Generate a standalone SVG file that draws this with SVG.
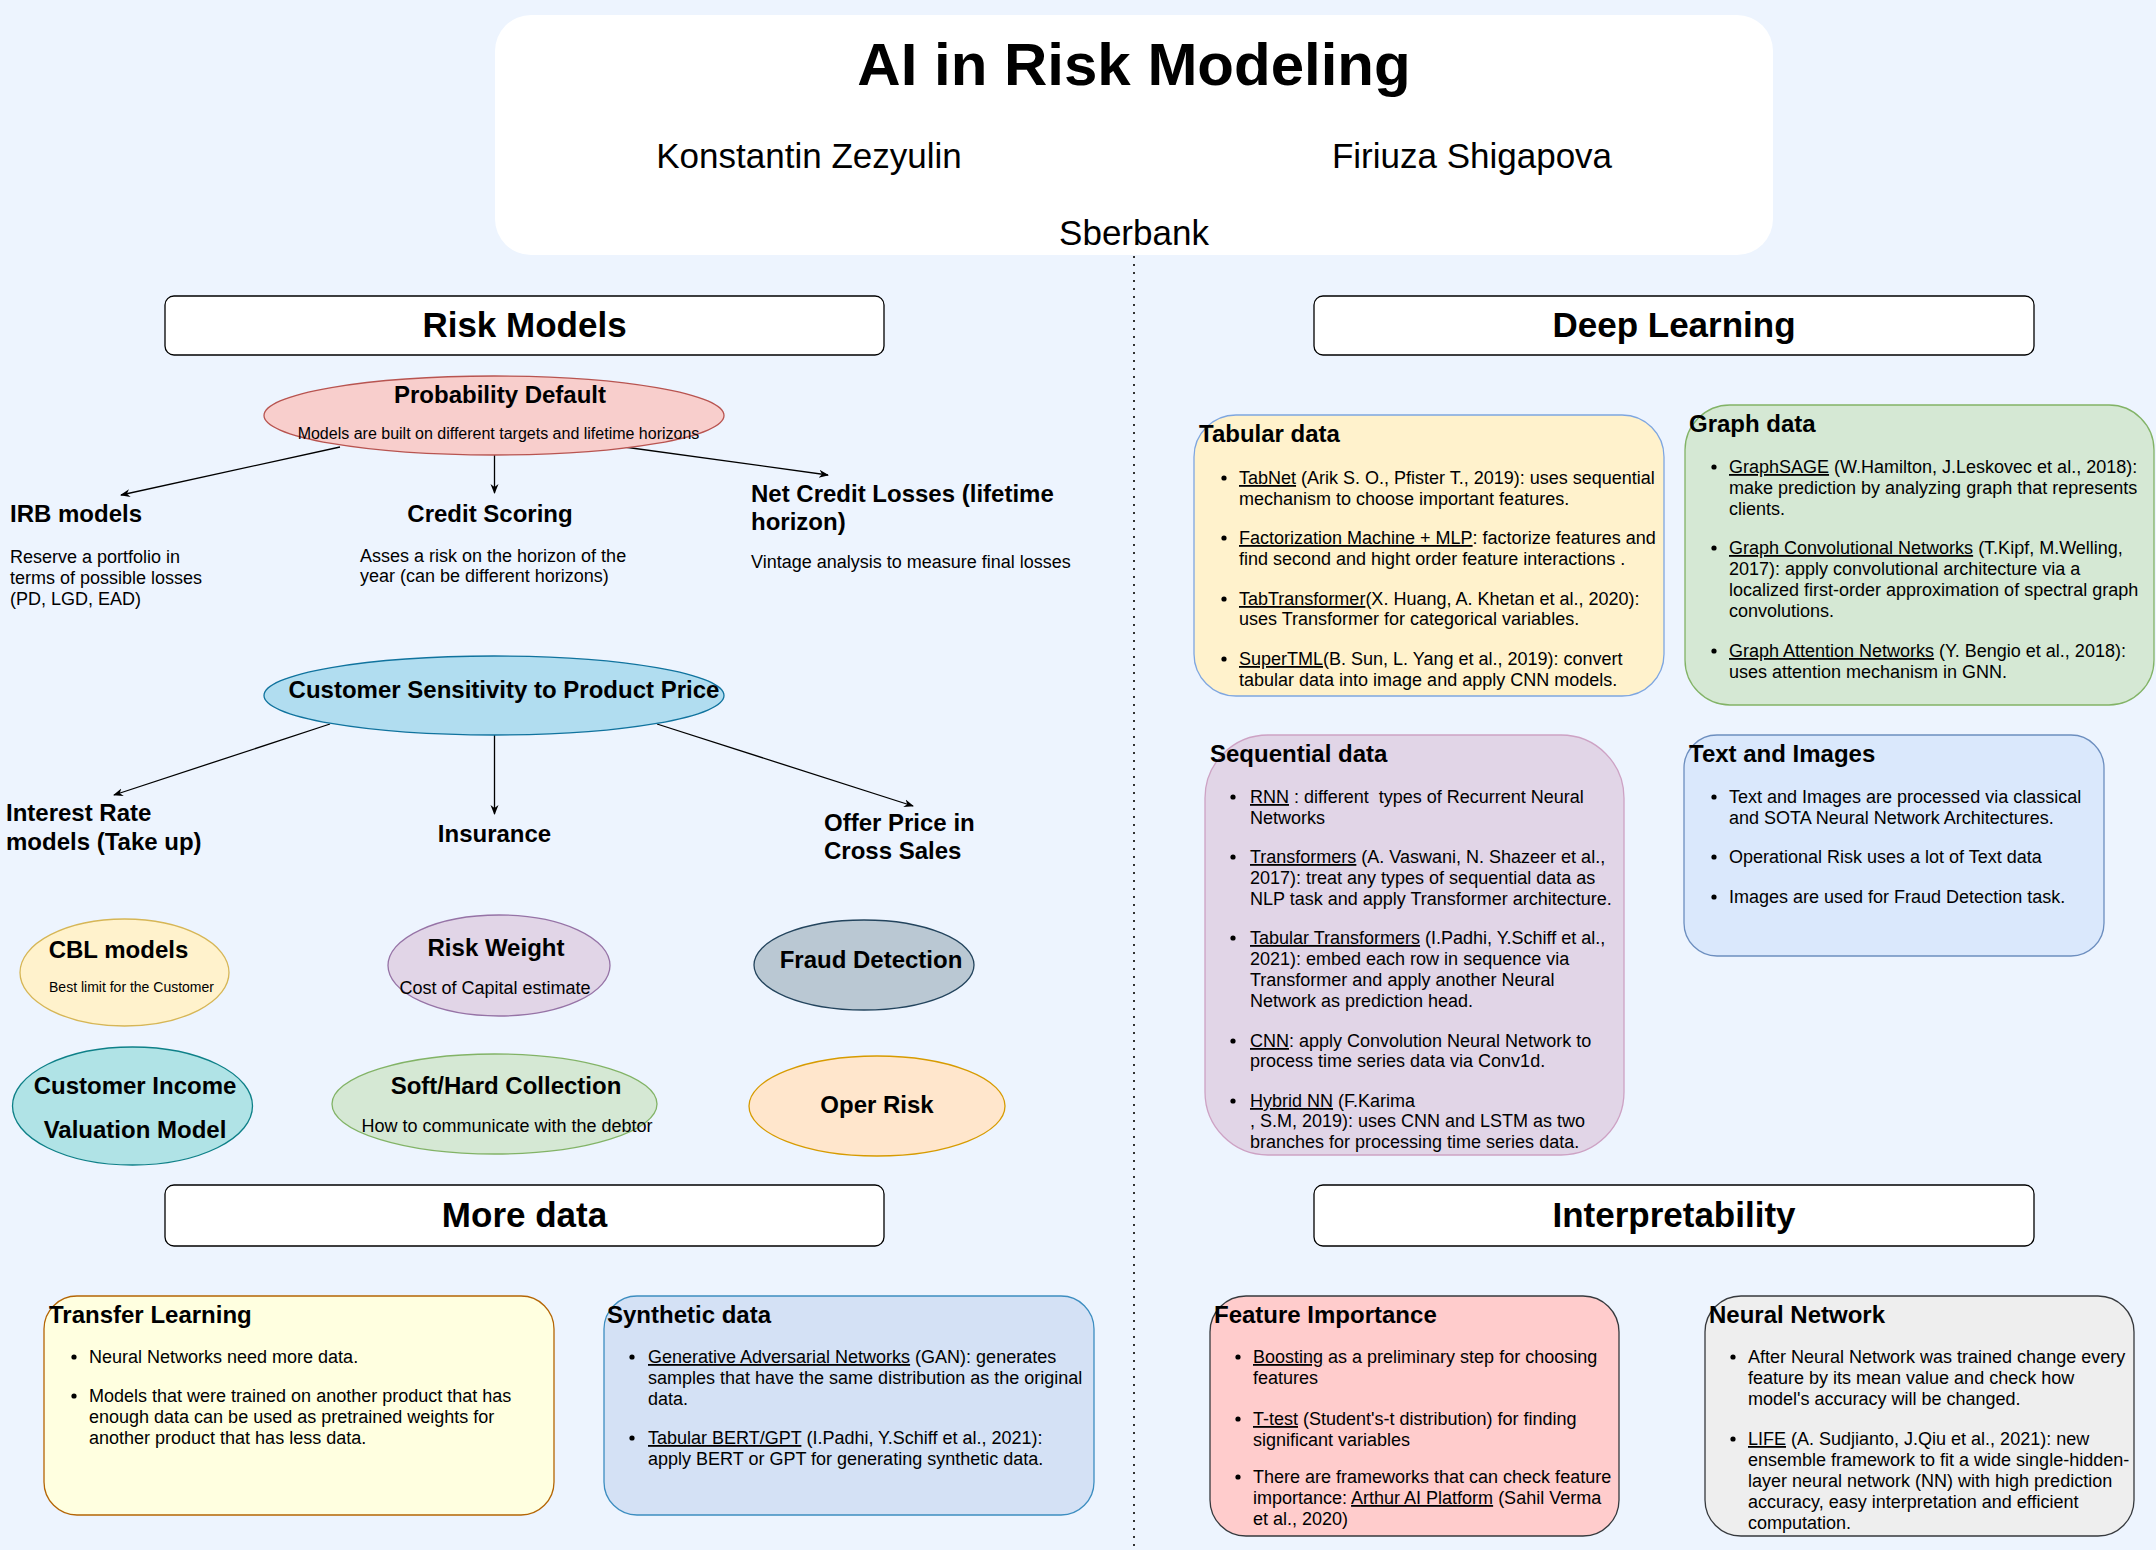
<svg xmlns="http://www.w3.org/2000/svg" width="2156" height="1550" viewBox="0 0 2156 1550">
<defs>
<style>
text{font-family:"Liberation Sans",Arial,Helvetica,sans-serif;fill:#000}
.t60{font-size:60px;font-weight:bold;text-anchor:middle}
.auth{font-size:35px;text-anchor:middle}
.sec{font-size:35px;font-weight:bold;text-anchor:middle}
.h{font-size:24px;font-weight:bold}
.hc{font-size:24px;font-weight:bold;text-anchor:middle}
.b{font-size:18px}
.bc{font-size:18px;text-anchor:middle}
.s16{font-size:16px;text-anchor:middle}
.s14{font-size:14px;text-anchor:middle}
.u{text-decoration:underline}
.secbox{fill:#fff;stroke:#000;stroke-width:1.3}
.conn{stroke:#000;stroke-width:1.3;fill:none;marker-end:url(#arr)}
.dot{fill:#000}
</style>
<marker id="arr" viewBox="0 0 10 10" refX="9" refY="5" markerWidth="10" markerHeight="10" markerUnits="userSpaceOnUse" orient="auto">
<path d="M0,1 L10,5 L0,9 L3,5 Z" fill="#000"/>
</marker>
</defs>
<rect x="0" y="0" width="2156" height="1550" fill="#edf4fe"/>

<g id="title">
<rect x="495" y="15" width="1278" height="240" rx="36" fill="#fff"/>
<text class="t60" x="1134" y="85">AI in Risk Modeling</text>
<text class="auth" x="809" y="168">Konstantin Zezyulin</text>
<text class="auth" x="1472" y="168">Firiuza Shigapova</text>
<text class="auth" x="1134" y="245">Sberbank</text>
</g>

<g id="divider">
<line x1="1134" y1="256" x2="1134" y2="1550" stroke="#333" stroke-width="2" stroke-dasharray="2 6"/>
</g>

<g id="sec-risk-models">
<rect class="secbox" x="165" y="296" width="719" height="59" rx="9"/>
<text class="sec" x="524.5" y="337">Risk Models</text>
</g>
<g id="sec-deep-learning">
<rect class="secbox" x="1314" y="296" width="720" height="59" rx="9"/>
<text class="sec" x="1674" y="337">Deep Learning</text>
</g>
<g id="sec-more-data">
<rect class="secbox" x="165" y="1185" width="719" height="61" rx="9"/>
<text class="sec" x="524.5" y="1227">More data</text>
</g>
<g id="sec-interpretability">
<rect class="secbox" x="1314" y="1185" width="720" height="61" rx="9"/>
<text class="sec" x="1674" y="1227">Interpretability</text>
</g>

<g id="connectors">
<line class="conn" x1="340" y1="447" x2="121" y2="495"/>
<line class="conn" x1="494.5" y1="455" x2="494.5" y2="493"/>
<line class="conn" x1="617" y1="446" x2="828" y2="475"/>
<line class="conn" x1="330" y1="724" x2="114" y2="795"/>
<line class="conn" x1="494.5" y1="735" x2="494.5" y2="814"/>
<line class="conn" x1="657" y1="724" x2="913" y2="806"/>
</g>

<g id="probability-default">
<ellipse cx="494" cy="415.5" rx="230" ry="39.5" fill="#f8cecc" stroke="#b85450" stroke-width="1.3"/>
<text class="hc" x="500" y="403">Probability Default</text>
<text class="s16" x="498.5" y="439">Models are built on different targets and lifetime horizons</text>
</g>

<g id="irb-models">
<text class="h" x="10" y="522">IRB models</text>
<text class="b" x="10" y="563">Reserve a portfolio in</text>
<text class="b" x="10" y="584">terms of possible losses</text>
<text class="b" x="10" y="605">(PD, LGD, EAD)</text>
</g>

<g id="credit-scoring">
<text class="hc" x="490" y="522">Credit Scoring</text>
<text class="b" x="360" y="562">Asses a risk on the horizon of the</text>
<text class="b" x="360" y="582">year (can be different horizons)</text>
</g>

<g id="net-credit-losses">
<text class="h" x="751" y="502">Net Credit Losses (lifetime</text>
<text class="h" x="751" y="530">horizon)</text>
<text class="b" x="751" y="568">Vintage analysis to measure final losses</text>
</g>

<g id="customer-sensitivity">
<ellipse cx="494" cy="695.5" rx="230" ry="39.5" fill="#b1ddf0" stroke="#10739e" stroke-width="1.3"/>
<text class="hc" x="504" y="698">Customer Sensitivity to Product Price</text>
</g>

<g id="interest-rate">
<text class="h" x="6" y="821">Interest Rate</text>
<text class="h" x="6" y="850">models (Take up)</text>
</g>
<g id="insurance">
<text class="hc" x="494.5" y="842">Insurance</text>
</g>
<g id="offer-price">
<text class="h" x="824" y="831">Offer Price in</text>
<text class="h" x="824" y="859">Cross Sales</text>
</g>

<g id="cbl-models">
<ellipse cx="124.5" cy="972.5" rx="104.5" ry="53.5" fill="#fff2cc" stroke="#d6b656" stroke-width="1.3"/>
<text class="hc" x="118.5" y="958">CBL models</text>
<text class="s14" x="131.5" y="992">Best limit for the Customer</text>
</g>

<g id="risk-weight">
<ellipse cx="499" cy="965.5" rx="111" ry="50.5" fill="#e1d5e7" stroke="#9673a6" stroke-width="1.3"/>
<text class="hc" x="496" y="956">Risk Weight</text>
<text class="bc" x="495" y="994">Cost of Capital estimate</text>
</g>

<g id="fraud-detection">
<ellipse cx="864" cy="965" rx="110" ry="45" fill="#bac8d3" stroke="#23445d" stroke-width="1.3"/>
<text class="hc" x="871" y="968">Fraud Detection</text>
</g>

<g id="customer-income">
<ellipse cx="132.5" cy="1106" rx="120" ry="59" fill="#b0e3e6" stroke="#0e8088" stroke-width="1.3"/>
<text class="hc" x="135" y="1094">Customer Income</text>
<text class="hc" x="135" y="1138">Valuation Model</text>
</g>

<g id="soft-hard-collection">
<ellipse cx="494.5" cy="1104" rx="162.5" ry="50" fill="#d5e8d4" stroke="#82b366" stroke-width="1.3"/>
<text class="hc" x="506" y="1094">Soft/Hard Collection</text>
<text class="bc" x="507" y="1132">How to communicate with the debtor</text>
</g>

<g id="oper-risk">
<ellipse cx="877" cy="1106" rx="128" ry="50" fill="#ffe6cc" stroke="#d79b00" stroke-width="1.3"/>
<text class="hc" x="877" y="1113">Oper Risk</text>
</g>

<g id="tabular-data">
<rect x="1194" y="415" width="470" height="281" rx="42" fill="#fff2cc" stroke="#7ea6e0" stroke-width="1.3"/>
<text class="h" x="1199" y="442">Tabular data</text>
<circle class="dot" cx="1224" cy="478" r="2.6"/>
<text class="b" x="1239" y="484"><tspan class="u">TabNet</tspan> (Arik S. O., Pfister T., 2019): uses sequential</text>
<text class="b" x="1239" y="505">mechanism to choose important features.</text>
<circle class="dot" cx="1224" cy="538" r="2.6"/>
<text class="b" x="1239" y="544"><tspan class="u">Factorization Machine + MLP</tspan>: factorize features and</text>
<text class="b" x="1239" y="565">find second and hight order feature interactions .</text>
<circle class="dot" cx="1224" cy="599" r="2.6"/>
<text class="b" x="1239" y="605"><tspan class="u">TabTransformer</tspan>(X. Huang, A. Khetan et al., 2020):</text>
<text class="b" x="1239" y="625">uses Transformer for categorical variables.</text>
<circle class="dot" cx="1224" cy="659" r="2.6"/>
<text class="b" x="1239" y="665"><tspan class="u">SuperTML</tspan>(B. Sun, L. Yang et al., 2019): convert</text>
<text class="b" x="1239" y="686">tabular data into image and apply CNN models.</text>
</g>

<g id="graph-data">
<rect x="1685" y="405" width="469" height="300" rx="45" fill="#d5e8d4" stroke="#82b366" stroke-width="1.3"/>
<text class="h" x="1689" y="432">Graph data</text>
<circle class="dot" cx="1714" cy="467" r="2.6"/>
<text class="b" x="1729" y="473"><tspan class="u">GraphSAGE</tspan> (W.Hamilton, J.Leskovec et al., 2018):</text>
<text class="b" x="1729" y="494">make prediction by analyzing graph that represents</text>
<text class="b" x="1729" y="515">clients.</text>
<circle class="dot" cx="1714" cy="548" r="2.6"/>
<text class="b" x="1729" y="554"><tspan class="u">Graph Convolutional Networks</tspan> (T.Kipf, M.Welling,</text>
<text class="b" x="1729" y="575">2017): apply convolutional architecture via a</text>
<text class="b" x="1729" y="596">localized first-order approximation of spectral graph</text>
<text class="b" x="1729" y="617">convolutions.</text>
<circle class="dot" cx="1714" cy="651" r="2.6"/>
<text class="b" x="1729" y="657"><tspan class="u">Graph Attention Networks</tspan> (Y. Bengio et al., 2018):</text>
<text class="b" x="1729" y="678">uses attention mechanism in GNN.</text>
</g>

<g id="sequential-data">
<rect x="1205" y="735" width="419" height="420" rx="63" fill="#e1d5e7" stroke="#cda2c4" stroke-width="1.3"/>
<text class="h" x="1210" y="762">Sequential data</text>
<circle class="dot" cx="1233" cy="797" r="2.6"/>
<text class="b" x="1250" y="803"><tspan class="u">RNN</tspan> : different&#160; types of Recurrent Neural</text>
<text class="b" x="1250" y="824">Networks</text>
<circle class="dot" cx="1233" cy="857" r="2.6"/>
<text class="b" x="1250" y="863"><tspan class="u">Transformers</tspan> (A. Vaswani, N. Shazeer et al.,</text>
<text class="b" x="1250" y="884">2017): treat any types of sequential data as</text>
<text class="b" x="1250" y="905">NLP task and apply Transformer architecture.</text>
<circle class="dot" cx="1233" cy="938" r="2.6"/>
<text class="b" x="1250" y="944"><tspan class="u">Tabular Transformers</tspan> (I.Padhi, Y.Schiff et al.,</text>
<text class="b" x="1250" y="965">2021): embed each row in sequence via</text>
<text class="b" x="1250" y="986">Transformer and apply another Neural</text>
<text class="b" x="1250" y="1007">Network as prediction head.</text>
<circle class="dot" cx="1233" cy="1041" r="2.6"/>
<text class="b" x="1250" y="1047"><tspan class="u">CNN</tspan>: apply Convolution Neural Network to</text>
<text class="b" x="1250" y="1067">process time series data via Conv1d.</text>
<circle class="dot" cx="1233" cy="1101" r="2.6"/>
<text class="b" x="1250" y="1107"><tspan class="u">Hybrid NN</tspan> (F.Karima</text>
<text class="b" x="1250" y="1127">, S.M, 2019): uses CNN and LSTM as two</text>
<text class="b" x="1250" y="1148">branches for processing time series data.</text>
</g>

<g id="text-and-images">
<rect x="1684" y="735" width="420" height="221" rx="33" fill="#dae8fc" stroke="#6c8ebf" stroke-width="1.3"/>
<text class="h" x="1689" y="762">Text and Images</text>
<circle class="dot" cx="1714" cy="797" r="2.6"/>
<text class="b" x="1729" y="803">Text and Images are processed via classical</text>
<text class="b" x="1729" y="824">and SOTA Neural Network Architectures.</text>
<circle class="dot" cx="1714" cy="857" r="2.6"/>
<text class="b" x="1729" y="863">Operational Risk uses a lot of Text data</text>
<circle class="dot" cx="1714" cy="897" r="2.6"/>
<text class="b" x="1729" y="903">Images are used for Fraud Detection task.</text>
</g>

<g id="transfer-learning">
<rect x="44" y="1296" width="510" height="219" rx="33" fill="#ffffe0" stroke="#b46504" stroke-width="1.3"/>
<text class="h" x="49" y="1323">Transfer Learning</text>
<circle class="dot" cx="74" cy="1357" r="2.6"/>
<text class="b" x="89" y="1363">Neural Networks need more data.</text>
<circle class="dot" cx="74" cy="1396" r="2.6"/>
<text class="b" x="89" y="1402">Models that were trained on another product that has</text>
<text class="b" x="89" y="1423">enough data can be used as pretrained weights for</text>
<text class="b" x="89" y="1444">another product that has less data.</text>
</g>

<g id="synthetic-data">
<rect x="604" y="1296" width="490" height="219" rx="33" fill="#d4e1f5" stroke="#3c8dc0" stroke-width="1.3"/>
<text class="h" x="607" y="1323">Synthetic data</text>
<circle class="dot" cx="632" cy="1357" r="2.6"/>
<text class="b" x="648" y="1363"><tspan class="u">Generative Adversarial Networks</tspan> (GAN): generates</text>
<text class="b" x="648" y="1384">samples that have the same distribution as the original</text>
<text class="b" x="648" y="1405">data.</text>
<circle class="dot" cx="632" cy="1438" r="2.6"/>
<text class="b" x="648" y="1444"><tspan class="u">Tabular BERT/GPT</tspan> (I.Padhi, Y.Schiff et al., 2021):</text>
<text class="b" x="648" y="1465">apply BERT or GPT for generating synthetic data.</text>
</g>

<g id="feature-importance">
<rect x="1210" y="1296" width="409" height="240" rx="36" fill="#ffcccc" stroke="#36393d" stroke-width="1.3"/>
<text class="h" x="1214" y="1323">Feature Importance</text>
<circle class="dot" cx="1238" cy="1357" r="2.6"/>
<text class="b" x="1253" y="1363"><tspan class="u">Boosting</tspan> as a preliminary step for choosing</text>
<text class="b" x="1253" y="1384">features</text>
<circle class="dot" cx="1238" cy="1419" r="2.6"/>
<text class="b" x="1253" y="1425"><tspan class="u">T-test</tspan> (Student's-t distribution) for finding</text>
<text class="b" x="1253" y="1446">significant variables</text>
<circle class="dot" cx="1238" cy="1477" r="2.6"/>
<text class="b" x="1253" y="1483">There are frameworks that can check feature</text>
<text class="b" x="1253" y="1504">importance: <tspan class="u">Arthur AI Platform</tspan> (Sahil Verma</text>
<text class="b" x="1253" y="1525">et al., 2020)</text>
</g>

<g id="neural-network">
<rect x="1705" y="1296" width="429" height="240" rx="36" fill="#eeeeee" stroke="#36393d" stroke-width="1.3"/>
<text class="h" x="1709" y="1323">Neural Network</text>
<circle class="dot" cx="1733" cy="1357" r="2.6"/>
<text class="b" x="1748" y="1363">After Neural Network was trained change every</text>
<text class="b" x="1748" y="1384">feature by its mean value and check how</text>
<text class="b" x="1748" y="1405">model's accuracy will be changed.</text>
<circle class="dot" cx="1733" cy="1439" r="2.6"/>
<text class="b" x="1748" y="1445"><tspan class="u">LIFE</tspan> (A. Sudjianto, J.Qiu et al., 2021): new</text>
<text class="b" x="1748" y="1466">ensemble framework to fit a wide single-hidden-</text>
<text class="b" x="1748" y="1487">layer neural network (NN) with high prediction</text>
<text class="b" x="1748" y="1508">accuracy, easy interpretation and efficient</text>
<text class="b" x="1748" y="1529">computation.</text>
</g>
</svg>
